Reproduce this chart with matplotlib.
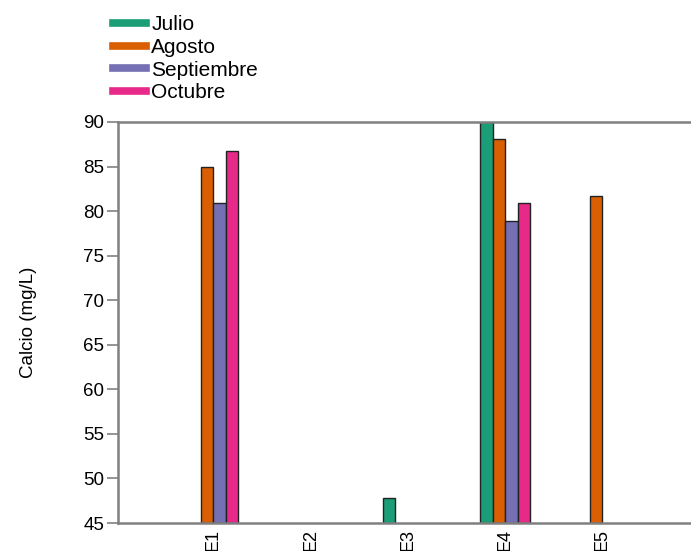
import numpy as np
import matplotlib.pyplot as plt
from matplotlib.lines import Line2D

plt.rcParams['font.family'] = ['Liberation Sans', 'DejaVu Sans']

# calcium per station and month (NaN = no data)
stations = ['E1', 'E2', 'E3', 'E4', 'E5']
months = ['Julio', 'Agosto', 'Septiembre', 'Octubre']
julio = [np.nan, np.nan, 47.8, 90.0, np.nan]
agosto = [85.0, np.nan, np.nan, 88.1, 81.7]
septiembre = [80.9, np.nan, np.nan, 78.9, np.nan]
octubre = [86.7, np.nan, np.nan, 80.9, np.nan]
series = [julio, agosto, septiembre, octubre]
colors = ['#1b9e77', '#d95f02', '#7570b3', '#e7298a']

fig = plt.figure(figsize=(6.91, 5.51), dpi=100)
ax = fig.add_axes([0.1708, 0.0508, 0.8292, 0.7278])

x = np.arange(len(stations))
w = 0.128
offsets = (np.arange(len(months)) - 1.5) * w
for vals, off, c in zip(series, offsets, colors):
    ax.bar(x + off, np.array(vals) - 45, w, bottom=45, color=c,
           edgecolor='#222222', linewidth=1.0)

ax.set_ylim(45, 90)
ax.set_xlim(-0.98, 4.91)
ax.set_yticks(np.arange(45, 91, 5))
ax.set_xticks(x)
ax.set_xticklabels(stations, rotation=90, fontsize=13)
ax.tick_params(axis='y', labelsize=13.5, length=8, width=1.2, color='#808080', pad=2)
ax.tick_params(axis='x', length=0, pad=4)
ax.set_ylabel('Calcio (mg/L)', fontsize=13.5, labelpad=33)

for s in ['left', 'top', 'bottom']:
    ax.spines[s].set_color('#808080')
    ax.spines[s].set_linewidth(1.8)
ax.spines['right'].set_visible(False)

handles = [Line2D([0], [0], color=c, lw=5.5) for c in colors]
fig.legend(handles, months, loc='upper left', bbox_to_anchor=(0.163, 0.972),
           frameon=False, fontsize=15, handlelength=1.6, handletextpad=0.25,
           labelspacing=0.17, borderaxespad=0.0, borderpad=0.0)

fig.savefig('out.png', dpi=100)
